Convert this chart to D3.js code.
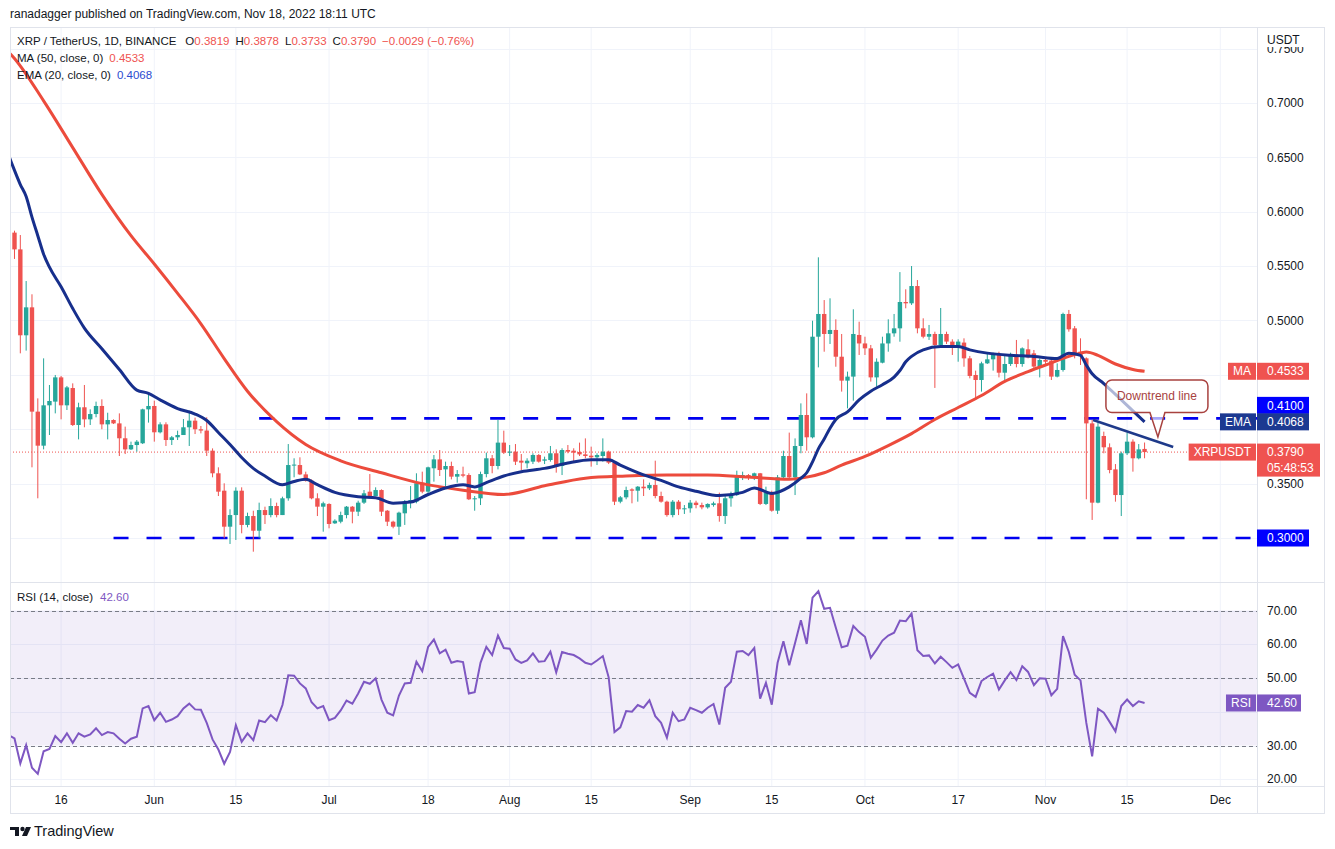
<!DOCTYPE html>
<html lang="en">
<head>
<meta charset="UTF-8">
<title>XRP / TetherUS, 1D</title>
<script src="https://d3js.org/d3.v7.min.js"></script>
<style>
    body { margin: 0; background: #fff; }
    svg { display: block; font-family: "Liberation Sans", Arial, sans-serif; }
    .axis-label { font-size: 12px; fill: #131722; }
    .tag-text { font-size: 12px; fill: #fff; }
</style>
</head>
<body>
<svg id="chart" width="1335" height="849"></svg>
<script>
// ---- data (daily candles, 7 May .. 18 Nov 2022) ----
const firstDay = "2022-05-07";

const open = [
    0.601, 0.5808, 0.5654, 0.4864, 0.5121, 0.4162, 0.3849, 0.4220, 0.4254, 0.4477, 0.4220, 0.4379, 0.4039, 0.4202, 0.4091, 0.4140, 0.4214, 0.4045, 0.4085, 0.4054, 0.3917, 0.3815, 0.3855, 0.3871, 0.4183,
    0.4214, 0.3972, 0.4045, 0.3901, 0.3926, 0.3947, 0.4018, 0.4079, 0.4000, 0.3988, 0.3803, 0.3595, 0.3435, 0.3104, 0.3211, 0.3435, 0.3120, 0.3202, 0.3067, 0.3257, 0.3211, 0.3294, 0.3211, 0.3365, 0.3668, 0.3671, 0.3585, 0.3527, 0.3365, 0.3288,
    0.3313, 0.3135, 0.3150, 0.3211, 0.3288, 0.3242, 0.3325, 0.3426, 0.3386, 0.3441, 0.3251, 0.3150, 0.3104, 0.3227, 0.3325, 0.3334, 0.3509, 0.3426, 0.3641, 0.3723, 0.3631, 0.3662, 0.3564, 0.3585, 0.3579, 0.3356, 0.3365, 0.3588, 0.3733, 0.3662, 0.3877,
    0.3788, 0.3794, 0.3711, 0.3687, 0.3702, 0.3763, 0.3711, 0.3717, 0.3779, 0.3662, 0.3809, 0.3803, 0.3791, 0.3769, 0.3757, 0.3742, 0.3754, 0.3794, 0.3693, 0.3334, 0.3374, 0.3447, 0.3435, 0.3472, 0.3457, 0.3487, 0.3386, 0.3334, 0.3211, 0.3334, 0.3264,
    0.3273, 0.3325, 0.3303, 0.3282, 0.3303, 0.3319, 0.3202, 0.3365, 0.3395, 0.3570, 0.3579, 0.3552, 0.3595, 0.3313, 0.3417, 0.3251, 0.3558, 0.3754, 0.3558, 0.3846, 0.4131, 0.3926, 0.4851, 0.5060, 0.4876, 0.4913, 0.4667, 0.4447, 0.4484, 0.4867,
    0.4789, 0.4744, 0.4477, 0.4612, 0.4789, 0.4882, 0.4928, 0.5170, 0.5158, 0.5317, 0.4928, 0.4851, 0.4876, 0.4775, 0.4876, 0.4806, 0.4754, 0.4797, 0.4652, 0.4499, 0.4453, 0.4606, 0.4643, 0.4683, 0.4520, 0.4600, 0.4683, 0.4600, 0.4735, 0.4698, 0.4576,
    0.4637, 0.4631, 0.4484, 0.4545, 0.5060, 0.4928, 0.4713, 0.4652, 0.4054, 0.3325, 0.3938, 0.3834, 0.3631, 0.3395, 0.3779, 0.3886, 0.3733, 0.3819
];
const high = [
    0.604, 0.5826, 0.5786, 0.5363, 0.5241, 0.4284, 0.4652, 0.4407, 0.4499, 0.4490, 0.4398, 0.4422, 0.4244, 0.4407, 0.4183, 0.4254, 0.4275, 0.4152, 0.4091, 0.4146, 0.4024, 0.3886, 0.3901, 0.4189, 0.4330,
    0.4263, 0.4064, 0.4064, 0.3938, 0.3987, 0.4094, 0.4171, 0.4107, 0.4030, 0.4110, 0.3824, 0.3650, 0.3503, 0.3264, 0.3466, 0.3466, 0.3233, 0.3251, 0.3325, 0.3288, 0.3365, 0.3325, 0.3380, 0.3864, 0.3733, 0.3742, 0.3610, 0.3539, 0.3411, 0.3334,
    0.3319, 0.3172, 0.3242, 0.3294, 0.3294, 0.3343, 0.3441, 0.3588, 0.3466, 0.3447, 0.3257, 0.3159, 0.3242, 0.3349, 0.3478, 0.3595, 0.3610, 0.3656, 0.3763, 0.3809, 0.3702, 0.3702, 0.3625, 0.3656, 0.3595, 0.3386, 0.3610, 0.3785, 0.3763, 0.4085, 0.3987,
    0.3855, 0.3864, 0.3772, 0.3733, 0.3779, 0.3772, 0.3748, 0.3846, 0.3815, 0.3825, 0.3855, 0.3825, 0.3877, 0.3916, 0.3840, 0.3779, 0.3916, 0.3803, 0.3702, 0.3386, 0.3472, 0.3457, 0.3478, 0.3539, 0.3509, 0.3711, 0.3426, 0.3343, 0.3349, 0.3349, 0.3303,
    0.3349, 0.3343, 0.3325, 0.3319, 0.3334, 0.3417, 0.3395, 0.3426, 0.3619, 0.3610, 0.3588, 0.3601, 0.3598, 0.3472, 0.3435, 0.3579, 0.3803, 0.3969, 0.3916, 0.4238, 0.4330, 0.4998, 0.5581, 0.5188, 0.5204, 0.5011, 0.4876, 0.4530, 0.5103, 0.4989,
    0.4851, 0.4775, 0.4652, 0.4851, 0.5011, 0.5060, 0.5445, 0.5287, 0.5501, 0.5372, 0.5020, 0.4959, 0.4897, 0.5115, 0.4897, 0.4827, 0.4827, 0.4836, 0.4674, 0.4539, 0.4621, 0.4698, 0.4704, 0.4713, 0.4674, 0.4704, 0.4821, 0.4753, 0.4827, 0.4729, 0.4652,
    0.4652, 0.4652, 0.4606, 0.5072, 0.5097, 0.4949, 0.4836, 0.4661, 0.4085, 0.4061, 0.3978, 0.3870, 0.3680, 0.3794, 0.3969, 0.3907, 0.3864, 0.3878
];
const low = [
    0.578, 0.5566, 0.4698, 0.4723, 0.3650, 0.3365, 0.3815, 0.3947, 0.4146, 0.4091, 0.4177, 0.4030, 0.3907, 0.4018, 0.4039, 0.4110, 0.4000, 0.3907, 0.4048, 0.3754, 0.3772, 0.3809, 0.3794, 0.3864, 0.4061,
    0.3886, 0.3962, 0.3846, 0.3855, 0.3901, 0.3947, 0.3846, 0.3956, 0.3962, 0.3754, 0.3558, 0.3386, 0.2997, 0.2945, 0.2982, 0.3043, 0.3098, 0.2874, 0.2997, 0.3129, 0.3190, 0.3190, 0.3211, 0.3343, 0.3558, 0.3579, 0.3518, 0.3356, 0.3202, 0.3058,
    0.3089, 0.3129, 0.3135, 0.3181, 0.3135, 0.3202, 0.3313, 0.3365, 0.3386, 0.3202, 0.3110, 0.3089, 0.3028, 0.3120, 0.3273, 0.3319, 0.3411, 0.3411, 0.3518, 0.3570, 0.3472, 0.3539, 0.3509, 0.3558, 0.3349, 0.3251, 0.3303, 0.3558, 0.3595, 0.3631, 0.3772,
    0.3754, 0.3671, 0.3625, 0.3641, 0.3680, 0.3693, 0.3680, 0.3702, 0.3601, 0.3579, 0.3779, 0.3702, 0.3754, 0.3733, 0.3656, 0.3671, 0.3702, 0.3680, 0.3303, 0.3319, 0.3356, 0.3319, 0.3334, 0.3386, 0.3441, 0.3365, 0.3325, 0.3196, 0.3190, 0.3211, 0.3221,
    0.3233, 0.3273, 0.3264, 0.3270, 0.3288, 0.3150, 0.3129, 0.3288, 0.3386, 0.3533, 0.3533, 0.3533, 0.3303, 0.3303, 0.3242, 0.3221, 0.3539, 0.3549, 0.3395, 0.3779, 0.3803, 0.3916, 0.4569, 0.4713, 0.4784, 0.4575, 0.4346, 0.4192, 0.4263, 0.4683,
    0.4683, 0.4438, 0.4392, 0.4606, 0.4713, 0.4851, 0.4805, 0.5112, 0.5143, 0.4882, 0.4836, 0.4821, 0.4380, 0.4775, 0.4784, 0.4683, 0.4621, 0.4575, 0.4468, 0.4275, 0.4346, 0.4600, 0.4539, 0.4477, 0.4438, 0.4582, 0.4569, 0.4575, 0.4652, 0.4545, 0.4477,
    0.4600, 0.4453, 0.4477, 0.4530, 0.4897, 0.4652, 0.4591, 0.3356, 0.3166, 0.3319, 0.3779, 0.3595, 0.3334, 0.3202, 0.3763, 0.3610, 0.3723, 0.3733
];
const close = [
    0.5808, 0.5654, 0.4864, 0.5121, 0.4162, 0.3849, 0.4220, 0.4260, 0.4477, 0.4220, 0.4385, 0.4039, 0.4202, 0.4091, 0.4140, 0.4214, 0.4045, 0.4085, 0.4054, 0.3917, 0.3815, 0.3855, 0.3886, 0.4183, 0.4214,
    0.3972, 0.4045, 0.3901, 0.3926, 0.3947, 0.4018, 0.4079, 0.4000, 0.3988, 0.3803, 0.3595, 0.3426, 0.3104, 0.3211, 0.3435, 0.3120, 0.3202, 0.3067, 0.3257, 0.3211, 0.3294, 0.3211, 0.3365, 0.3671, 0.3675, 0.3585, 0.3527, 0.3365, 0.3288, 0.3319,
    0.3129, 0.3159, 0.3211, 0.3288, 0.3242, 0.3325, 0.3411, 0.3380, 0.3441, 0.3242, 0.3150, 0.3104, 0.3233, 0.3334, 0.3349, 0.3503, 0.3426, 0.3650, 0.3723, 0.3625, 0.3662, 0.3564, 0.3588, 0.3573, 0.3356, 0.3365, 0.3588, 0.3733, 0.3662, 0.3877, 0.3785,
    0.3794, 0.3702, 0.3693, 0.3711, 0.3763, 0.3702, 0.3723, 0.3779, 0.3656, 0.3809, 0.3794, 0.3785, 0.3769, 0.3754, 0.3742, 0.3763, 0.3794, 0.3693, 0.3334, 0.3374, 0.3441, 0.3435, 0.3472, 0.3457, 0.3487, 0.3386, 0.3334, 0.3211, 0.3334, 0.3264, 0.3273,
    0.3325, 0.3303, 0.3282, 0.3313, 0.3319, 0.3202, 0.3365, 0.3395, 0.3570, 0.3579, 0.3555, 0.3595, 0.3313, 0.3417, 0.3251, 0.3558, 0.3754, 0.3558, 0.3846, 0.4131, 0.3926, 0.4851, 0.5060, 0.4876, 0.4913, 0.4667, 0.4447, 0.4484, 0.4876, 0.4789,
    0.4744, 0.4477, 0.4621, 0.4789, 0.4882, 0.4928, 0.5170, 0.5158, 0.5317, 0.4928, 0.4851, 0.4876, 0.4775, 0.4876, 0.4806, 0.4754, 0.4806, 0.4652, 0.4490, 0.4453, 0.4606, 0.4643, 0.4683, 0.4520, 0.4600, 0.4683, 0.4600, 0.4744, 0.4661, 0.4576, 0.4637,
    0.4621, 0.4484, 0.4545, 0.5060, 0.4919, 0.4683, 0.4674, 0.4054, 0.3325, 0.4024, 0.3834, 0.3625, 0.3395, 0.3779, 0.3886, 0.3733, 0.3815, 0.3790
];

// RSI(14), one value per candle
const rsi = [
    33.1, 32.1, 24.7, 30.1, 23.4, 21.6, 28.3, 29.0, 32.8, 31.0, 33.6, 30.8, 33.6, 32.6, 33.3, 35.1, 33.1, 34.0, 33.6, 32.0, 30.6, 32.0, 32.6, 41.0, 41.7,
    37.5, 39.7, 37.0, 37.7, 38.7, 41.0, 42.4, 40.7, 40.6, 36.7, 31.8, 28.8, 24.6, 28.1, 36.0, 31.1, 33.6, 31.6, 37.4, 36.9, 39.0, 37.4, 42.0, 50.8, 50.7, 48.4, 46.9, 42.8, 41.0, 41.7,
    37.5, 38.2, 40.4, 43.3, 42.4, 45.4, 48.9, 48.3, 49.9, 43.6, 39.7, 38.9, 44.8, 48.4, 48.6, 54.8, 52.0, 59.2, 61.4, 57.3, 58.4, 54.5, 55.0, 54.7, 45.4, 45.8, 54.5, 59.2, 56.8, 62.6, 58.9,
    58.7, 55.5, 54.5, 55.2, 57.3, 54.8, 55.0, 57.8, 51.7, 57.7, 57.2, 56.8, 55.8, 54.5, 54.0, 55.2, 56.5, 50.2, 34.0, 35.4, 40.2, 40.0, 42.0, 41.2, 43.4, 38.7, 36.7, 32.3, 39.7, 37.2, 37.7,
    41.2, 40.5, 39.7, 41.2, 42.3, 36.2, 47.1, 48.9, 57.8, 58.0, 56.8, 58.9, 43.9, 48.6, 42.1, 54.5, 60.9, 53.8, 60.4, 67.1, 60.1, 73.8, 75.7, 70.5, 70.8, 64.9, 59.1, 59.6, 65.4, 63.6,
    62.2, 56.0, 58.4, 61.1, 62.6, 63.4, 67.0, 66.8, 69.1, 58.2, 56.5, 56.7, 54.3, 56.3, 54.7, 53.0, 54.0, 49.8, 45.6, 44.4, 49.1, 50.3, 51.3, 46.6, 49.3, 51.7, 49.4, 53.5, 51.8, 47.9, 49.9,
    49.8, 44.9, 46.8, 62.4, 57.7, 51.0, 49.3, 36.7, 26.8, 40.9, 39.7, 37.0, 34.2, 41.7, 43.6, 41.7, 43.1, 42.6
];

// MA(50) and EMA(20)
const maDates = ["2022-05-06","2022-05-07","2022-05-08","2022-05-13","2022-05-18","2022-05-23","2022-05-28","2022-06-01","2022-06-05","2022-06-09","2022-06-13","2022-06-17","2022-06-22","2022-06-27","2022-07-03","2022-07-10","2022-07-17","2022-07-24","2022-07-31","2022-08-07","2022-08-14","2022-08-21","2022-08-28","2022-09-04","2022-09-11","2022-09-18","2022-09-21","2022-09-24","2022-09-27","2022-10-01","2022-10-05","2022-10-09","2022-10-13","2022-10-17","2022-10-21","2022-10-25","2022-10-29","2022-11-02","2022-11-05","2022-11-07","2022-11-08","2022-11-10","2022-11-13","2022-11-16","2022-11-18"];
const maValues = [0.754, 0.747, 0.741, 0.702, 0.659, 0.616, 0.578, 0.552, 0.525, 0.497, 0.465, 0.435, 0.407, 0.386, 0.371, 0.360, 0.350, 0.344, 0.340, 0.348, 0.355, 0.357, 0.358, 0.358, 0.356, 0.354, 0.356, 0.360, 0.367, 0.375, 0.385, 0.396, 0.409, 0.420, 0.431, 0.444, 0.453, 0.461, 0.467, 0.470, 0.471, 0.468, 0.460, 0.455, 0.4533];

const emaDates = ["2022-05-06","2022-05-07","2022-05-08","2022-05-09","2022-05-10","2022-05-11","2022-05-12","2022-05-13","2022-05-14","2022-05-16","2022-05-18","2022-05-20","2022-05-23","2022-05-26","2022-05-29","2022-05-31","2022-06-02","2022-06-05","2022-06-08","2022-06-10","2022-06-12","2022-06-14","2022-06-16","2022-06-18","2022-06-20","2022-06-23","2022-06-25","2022-06-27","2022-06-29","2022-07-02","2022-07-06","2022-07-09","2022-07-12","2022-07-15","2022-07-18","2022-07-21","2022-07-24","2022-07-26","2022-07-28","2022-07-31","2022-08-03","2022-08-07","2022-08-11","2022-08-15","2022-08-18","2022-08-20","2022-08-24","2022-08-27","2022-08-30","2022-09-02","2022-09-06","2022-09-10","2022-09-12","2022-09-15","2022-09-18","2022-09-20","2022-09-21","2022-09-22","2022-09-23","2022-09-24","2022-09-25","2022-09-26","2022-09-28","2022-09-30","2022-10-02","2022-10-04","2022-10-06","2022-10-07","2022-10-08","2022-10-09","2022-10-11","2022-10-14","2022-10-17","2022-10-19","2022-10-22","2022-10-26","2022-10-30","2022-11-03","2022-11-05","2022-11-07","2022-11-08","2022-11-09","2022-11-11","2022-11-13","2022-11-15","2022-11-18"];
const emaValues = [0.667, 0.652, 0.638, 0.625, 0.614, 0.595, 0.578, 0.561, 0.549, 0.531, 0.511, 0.493, 0.474, 0.455, 0.436, 0.433, 0.427, 0.419, 0.414, 0.408, 0.397, 0.386, 0.374, 0.364, 0.357, 0.349, 0.352, 0.354, 0.349, 0.342, 0.338, 0.337, 0.332, 0.333, 0.340, 0.346, 0.349, 0.347, 0.351, 0.357, 0.361, 0.364, 0.369, 0.372, 0.372, 0.367, 0.358, 0.353, 0.347, 0.343, 0.339, 0.342, 0.346, 0.341, 0.347, 0.355, 0.360, 0.370, 0.382, 0.391, 0.401, 0.409, 0.416, 0.427, 0.435, 0.441, 0.448, 0.454, 0.462, 0.467, 0.473, 0.476, 0.476, 0.473, 0.470, 0.468, 0.467, 0.465, 0.470, 0.468, 0.459, 0.451, 0.442, 0.432, 0.422, 0.4068];

// horizontal levels drawn by the author
const levelPrices = [0.41, 0.30];
const levelStarts = ["2022-06-19", "2022-05-25"];
// downtrend line and callout anchor
const trendPoints = [["2022-11-09T04:00", 0.4085], ["2022-11-22T22:00", 0.3837]];
const calloutAnchor = ["2022-11-20T07:00", 0.3929];

// axis ticks
const timeTicks = ["2022-05-16","2022-06-01","2022-06-15","2022-07-01","2022-07-18","2022-08-01","2022-08-15","2022-09-01","2022-09-15","2022-10-01","2022-10-17","2022-11-01","2022-11-15","2022-12-01"];
const timeLabels = ["16","Jun","15","Jul","18","Aug","15","Sep","15","Oct","17","Nov","15","Dec"];
const priceTicks = [0.30, 0.35, 0.40, 0.45, 0.50, 0.55, 0.60, 0.65, 0.70, 0.75];
const rsiTicks = [20, 30, 40, 50, 60, 70];
const rsiBands = [70, 50, 30];

// ---- layout ----
const left = 10, axisX = 1257, right = 1324;
const mainTop = 27, mainBottom = 582, rsiTop = 583, rsiBottom = 786, frameBottom = 813;
const red = "#ef5350", green = "#26a69a";

const parse = s => new Date(s + (s.length > 10 ? ":00Z" : "T00:00:00Z"));
const start = parse(firstDay);
const dayOf = i => d3.utcDay.offset(start, i);
const last = close.length - 1;

const x = d3.scaleUtc()
    .domain([parse("2022-06-01"), parse("2022-12-01")])
    .range([154.3, 1220.3]);
const y = d3.scaleLinear().domain([0.3, 0.7]).range([538, 103]);
const yR = d3.scaleLinear().domain([30, 70]).range([745.5, 610.5]);

const svg = d3.select("#chart");
const defs = svg.append("defs");
defs.append("clipPath").attr("id", "clip-main").append("rect")
    .attr("x", left).attr("y", mainTop).attr("width", axisX - left).attr("height", mainBottom - mainTop);
defs.append("clipPath").attr("id", "clip-rsi").append("rect")
    .attr("x", left).attr("y", rsiTop).attr("width", axisX - left).attr("height", rsiBottom - rsiTop);
defs.append("clipPath").attr("id", "clip-scale").append("rect")
    .attr("x", axisX).attr("y", 47).attr("width", right - axisX).attr("height", frameBottom - 47);

// top header
svg.append("text").attr("x", 10).attr("y", 18)
    .style("font-size", "12px").attr("fill", "#131722")
    .text("ranadagger published on TradingView.com, Nov 18, 2022 18:11 UTC");

// grid
const grid = svg.append("g");
timeTicks.forEach(t => {
    grid.append("line").attr("x1", x(parse(t))).attr("x2", x(parse(t)))
        .attr("y1", mainTop).attr("y2", rsiBottom)
        .attr("stroke", "#f0f3fa").attr("stroke-width", 1);
});
priceTicks.forEach(p => {
    grid.append("line").attr("x1", left).attr("x2", axisX)
        .attr("y1", Math.round(y(p)) + 0.5).attr("y2", Math.round(y(p)) + 0.5)
        .attr("stroke", "#f0f3fa");
});
rsiTicks.forEach(r => {
    grid.append("line").attr("x1", left).attr("x2", axisX)
        .attr("y1", Math.round(yR(r)) + 0.5).attr("y2", Math.round(yR(r)) + 0.5)
        .attr("stroke", "#f0f3fa");
});

// ---- main pane ----
const main = svg.append("g").attr("clip-path", "url(#clip-main)");

// last price dotted line
main.append("line").attr("x1", left).attr("x2", axisX)
    .attr("y1", y(close[last])).attr("y2", y(close[last]))
    .attr("stroke", red).attr("stroke-width", 1).attr("stroke-dasharray", "1 2");

// dashed support / resistance
levelPrices.forEach((p, i) => {
    main.append("line")
        .attr("x1", x(parse(levelStarts[i]))).attr("x2", axisX)
        .attr("y1", y(p)).attr("y2", y(p))
        .attr("stroke", "#0000f0").attr("stroke-width", 2.6)
        .attr("stroke-dasharray", "15 18");
});

const candles = open.map((o, i) => ({ date: dayOf(i), o, h: high[i], l: low[i], c: close[i] }));
const bodyW = 4.4;
const cg = main.append("g").selectAll("g").data(candles).join("g")
    .attr("fill", d => d.c >= d.o ? green : red)
    .attr("stroke", d => d.c >= d.o ? green : red);
cg.append("line")
    .attr("x1", d => x(d.date)).attr("x2", d => x(d.date))
    .attr("y1", d => y(d.h)).attr("y2", d => y(d.l))
    .attr("stroke-width", 1);
cg.append("rect")
    .attr("x", d => x(d.date) - bodyW / 2).attr("width", bodyW)
    .attr("y", d => y(Math.max(d.o, d.c)))
    .attr("height", d => Math.max(1, Math.abs(y(d.o) - y(d.c))))
    .attr("stroke", "none");

const smooth = d3.line().x(d => x(d[0])).y(d => y(d[1])).curve(d3.curveMonotoneX);
main.append("path")
    .datum(maDates.map((s, i) => [parse(s), maValues[i]]))
    .attr("d", smooth).attr("fill", "none")
    .attr("stroke", "#ec4b3c").attr("stroke-width", 3);
main.append("path")
    .datum(emaDates.map((s, i) => [parse(s), emaValues[i]]))
    .attr("d", smooth).attr("fill", "none")
    .attr("stroke", "#172f8c").attr("stroke-width", 3);

// downtrend line
main.append("line")
    .attr("x1", x(parse(trendPoints[0][0]))).attr("y1", y(trendPoints[0][1]))
    .attr("x2", x(parse(trendPoints[1][0]))).attr("y2", y(trendPoints[1][1]))
    .attr("stroke", "#1e3a8a").attr("stroke-width", 2.5);

// callout
{
    const tx = x(parse(calloutAnchor[0])), ty = y(calloutAnchor[1]);
    const L = tx - 52, R = tx + 50, T = ty - 57, B = ty - 24.5, r = 6;
    const path = `M${L + r},${T} H${R - r} A${r},${r} 0 0 1 ${R},${T + r} V${B - r} A${r},${r} 0 0 1 ${R - r},${B}
        H${tx + 7} L${tx},${ty} L${tx - 8},${B} H${L + r} A${r},${r} 0 0 1 ${L},${B - r} V${T + r} A${r},${r} 0 0 1 ${L + r},${T} Z`;
    main.append("path").attr("d", path)
        .attr("fill", "rgba(255,255,255,0.65)").attr("stroke", "#a8423f").attr("stroke-width", 1.5);
    main.append("text").attr("x", tx - 1).attr("y", T + 20)
        .attr("text-anchor", "middle").style("font-size", "12px").attr("fill", "#a8423f")
        .text("Downtrend line");
}

// ---- RSI pane ----
const rp = svg.append("g").attr("clip-path", "url(#clip-rsi)");
rp.append("rect").attr("x", left).attr("width", axisX - left)
    .attr("y", yR(70)).attr("height", yR(30) - yR(70))
    .attr("fill", "rgba(126,87,194,0.1)");
rsiBands.forEach(b => {
    rp.append("line").attr("x1", left).attr("x2", axisX)
        .attr("y1", Math.round(yR(b)) + 0.5).attr("y2", Math.round(yR(b)) + 0.5)
        .attr("stroke", "#787b86").attr("stroke-dasharray", "4 3");
});
rp.append("path").datum(rsi)
    .attr("d", d3.line().x((d, i) => x(dayOf(i))).y(d => yR(d)))
    .attr("fill", "none").attr("stroke", "#7e57c2").attr("stroke-width", 2);

// ---- frame ----
const frame = svg.append("g").attr("fill", "none").attr("stroke", "#e0e3eb");
frame.append("rect").attr("x", left + 0.5).attr("y", mainTop + 0.5)
    .attr("width", right - left).attr("height", frameBottom - mainTop);
frame.append("line").attr("x1", left).attr("x2", right).attr("y1", mainBottom + 0.5).attr("y2", mainBottom + 0.5);
frame.append("line").attr("x1", left).attr("x2", right).attr("y1", rsiBottom + 0.5).attr("y2", rsiBottom + 0.5);
frame.append("line").attr("x1", axisX + 0.5).attr("x2", axisX + 0.5).attr("y1", mainTop).attr("y2", frameBottom);

// ---- price-scale tags (positions first, so covered tick labels can be skipped) ----
const tags = [
    { label: "MA", value: d3.format(".4f")(maValues[maValues.length - 1]), yc: y(maValues[maValues.length - 1]), color: red },
    { value: d3.format(".4f")(levelPrices[0]), yc: y(levelPrices[0]) - 13, color: "#0000ff" },
    { label: "EMA", value: d3.format(".4f")(emaValues[emaValues.length - 1]), yc: y(emaValues[emaValues.length - 1]), color: "#1c3991" },
    { label: "XRPUSDT", value: d3.format(".4f")(close[last]), sub: "05:48:53", yc: y(close[last]), color: red, w: 63 },
    { value: d3.format(".4f")(levelPrices[1]), yc: y(levelPrices[1]), color: "#0000ff" },
    { label: "RSI", value: d3.format(".2f")(rsi[rsi.length - 1]), yc: yR(rsi[rsi.length - 1]), color: "#7e57c2", w: 44 }
];
const covered = yy => tags.some(t => yy > t.yc - 14 && yy < t.yc + (t.sub ? 30 : 14));

// ---- axes ----
const scaleLabels = svg.append("g").attr("clip-path", "url(#clip-scale)");
priceTicks.forEach(p => {
    if (covered(y(p))) return;
    scaleLabels.append("text").attr("class", "axis-label").attr("x", 1267).attr("y", y(p)).attr("dy", "0.35em")
        .text(d3.format(".4f")(p));
});
rsiTicks.forEach(r => {
    if (covered(yR(r))) return;
    scaleLabels.append("text").attr("class", "axis-label").attr("x", 1267).attr("y", yR(r)).attr("dy", "0.35em")
        .text(d3.format(".2f")(r));
});
timeTicks.forEach((t, i) => {
    svg.append("text").attr("class", "axis-label").attr("x", x(parse(t))).attr("y", 800)
        .attr("dy", "0.35em").attr("text-anchor", "middle").text(timeLabels[i]);
});

// currency header on price scale
svg.append("text").attr("class", "axis-label").attr("x", 1267).attr("y", 40).attr("dy", "0.35em").text("USDT");

function tag(t) {
    const g = svg.append("g");
    const h = t.sub ? 33 : 17;
    const top = t.yc - 8.5;
    g.append("rect").attr("x", axisX).attr("y", top).attr("width", t.w || 52).attr("height", h).attr("fill", t.color);
    g.append("text").attr("class", "tag-text").attr("x", 1267).attr("y", t.yc).attr("dy", "0.35em").text(t.value);
    if (t.sub) g.append("text").attr("class", "tag-text").attr("x", 1267).attr("y", t.yc + 15.5).attr("dy", "0.35em").text(t.sub);
    if (t.label) {
        const lt = g.append("text").attr("class", "tag-text").attr("x", axisX - 6).attr("y", t.yc)
            .attr("dy", "0.35em").attr("text-anchor", "end").text(t.label);
        const w = lt.node().getComputedTextLength();
        g.insert("rect", "text").attr("x", axisX - w - 11).attr("y", top).attr("width", w + 10).attr("height", 17)
            .attr("fill", t.color);
    }
}
tags.forEach(tag);

// ---- legends ----
const leg = svg.append("g").style("font-size", "11.5px").attr("fill", "#131722");
const head = leg.append("text").attr("x", 17).attr("y", 45);
head.append("tspan").text("XRP / TetherUS, 1D, BINANCE");
[["O", open], ["H", high], ["L", low], ["C", close]].forEach(([k, arr], i) => {
    head.append("tspan").attr("dx", i ? 6 : 9).text(k);
    head.append("tspan").attr("fill", red).text(d3.format(".4f")(arr[last]));
});
const chg = close[last] - open[last];
head.append("tspan").attr("dx", 6).attr("fill", red)
    .text(`\u2212${Math.abs(chg).toFixed(4)} (\u2212${Math.abs(chg / open[last] * 100).toFixed(2)}%)`);

const ma = leg.append("text").attr("x", 17).attr("y", 62);
ma.append("tspan").text("MA (50, close, 0)");
ma.append("tspan").attr("dx", 6).attr("fill", red).text(d3.format(".4f")(maValues[maValues.length - 1]));
const ema = leg.append("text").attr("x", 17).attr("y", 79);
ema.append("tspan").text("EMA (20, close, 0)");
ema.append("tspan").attr("dx", 6).attr("fill", "#2a4bd0").text(d3.format(".4f")(emaValues[emaValues.length - 1]));
const rl = leg.append("text").attr("x", 17).attr("y", 601);
rl.append("tspan").text("RSI (14, close)");
rl.append("tspan").attr("dx", 7).attr("fill", "#7e57c2").text(d3.format(".2f")(rsi[rsi.length - 1]));

// ---- TradingView logo ----
const logo = svg.append("g").attr("fill", "#131722");
logo.append("path").attr("d", "M10,827 H19 V836 H15 V830 H10 Z");
logo.append("circle").attr("cx", 22.5).attr("cy", 829).attr("r", 2.2);
logo.append("path").attr("d", "M26,827 H31 L27,836 H22 Z");
logo.append("text").attr("x", 34).attr("y", 836).style("font-size", "14.5px").text("TradingView");
</script>
</body>
</html>
